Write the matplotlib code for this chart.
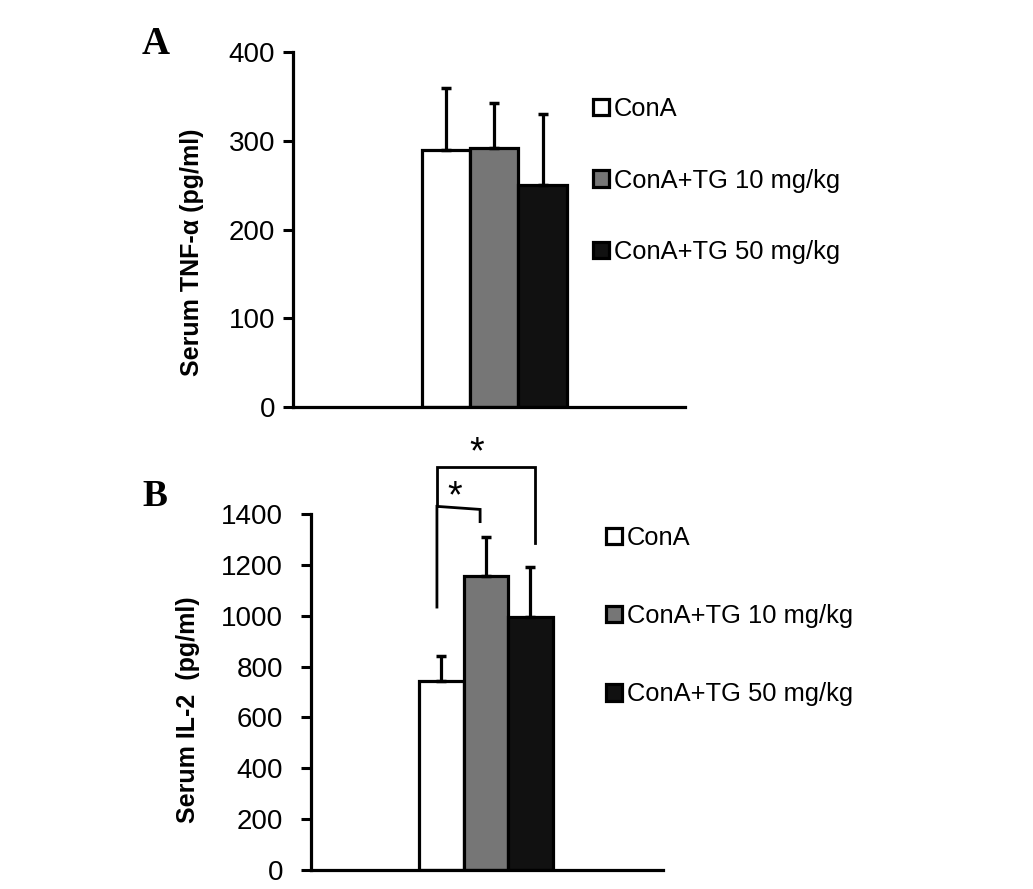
import matplotlib
matplotlib.use("Agg")
import matplotlib.pyplot as plt
import numpy as np

plt.rcParams['font.family'] = ['Liberation Sans', 'DejaVu Sans']

groups = ["ConA", "ConA+TG 10 mg/kg", "ConA+TG 50 mg/kg"]
colors = ["#ffffff", "#767676", "#111111"]

tnf_mean = [290, 292, 250]
tnf_err = [70, 50, 80]
tnf_ticks = [0, 100, 200, 300, 400]

il2_mean = [745, 1157, 993]
il2_err = [96, 153, 200]
il2_ticks = [0, 200, 400, 600, 800, 1000, 1200, 1400]

W, H = 1033, 889
fig = plt.figure(figsize=(W / 100, H / 100), dpi=100)


def px_axes(l, t, r, b):
    return fig.add_axes([l / W, 1 - b / H, (r - l) / W, (b - t) / H])


def style(ax, ticks, ylim, pad):
    ax.set_ylim(*ylim)
    ax.set_yticks(ticks)
    ax.set_xticks([])
    for s in ["top", "right"]:
        ax.spines[s].set_visible(False)
    for s in ["left", "bottom"]:
        ax.spines[s].set_linewidth(2.3)
    ax.tick_params(axis="y", length=7, width=2.2, labelsize=20, pad=pad, direction="out")


def draw(ax, means, errs):
    x = np.arange(len(means))
    bars = ax.bar(x, means, width=1.0, color=colors, edgecolor="black", linewidth=2.3,
                  zorder=2)
    ax.errorbar(x, means, yerr=[np.zeros(len(errs)), errs], fmt="none", ecolor="black",
                elinewidth=2.3, capsize=3.5, capthick=2.5, zorder=3)
    return bars


# Panel A
axA = px_axes(293, 52, 685, 407)
barsA = draw(axA, tnf_mean, tnf_err)
axA.set_xlim(-3.17, 4.95)
style(axA, tnf_ticks, (0, 400), 6)
axA.legend(barsA, groups, loc="upper left", bbox_to_anchor=(593 / W, 1 - 97 / H),
           bbox_transform=fig.transFigure, frameon=False, fontsize=18.4,
           handlelength=0.62, handleheight=0.62, handletextpad=0.2,
           labelspacing=1.86, borderpad=0, borderaxespad=0)
fig.text(192 / W, 1 - 252 / H, "Serum TNF-α (pg/ml)", rotation=90, ha="center", va="center",
         fontsize=18, fontweight="bold")
fig.text(156 / W, 1 - 44 / H, "A", ha="center", va="center", fontsize=28, fontweight="bold",
         family="Liberation Serif")

# Panel B
axB = px_axes(311, 514, 663, 870)
barsB = draw(axB, il2_mean, il2_err)
axB.set_xlim(-2.93, 4.98)
style(axB, il2_ticks, (0, 1400), 13)
axB.legend(barsB, groups, loc="upper left", bbox_to_anchor=(606 / W, 1 - 526 / H),
           bbox_transform=fig.transFigure, frameon=False, fontsize=18.4,
           handlelength=0.62, handleheight=0.62, handletextpad=0.2,
           labelspacing=2.12, borderpad=0, borderaxespad=0)
fig.text(188 / W, 1 - 710 / H, "Serum IL-2  (pg/ml)", rotation=90, ha="center", va="center",
         fontsize=18, fontweight="bold")
fig.text(155 / W, 1 - 497 / H, "B", ha="center", va="center", fontsize=27, fontweight="bold",
         family="Liberation Serif")

# significance brackets
axB.plot([-0.1, -0.1, 0.87, 0.87], [1034, 1430, 1418, 1370], color="black", lw=2.0,
         clip_on=False, solid_joinstyle="miter")
axB.plot([-0.1, -0.1, 2.1, 2.1], [1430, 1585, 1585, 1286], color="black", lw=2.0,
         clip_on=False, solid_joinstyle="miter")
axB.text(0.3, 1467, "*", ha="center", va="center", fontsize=27, clip_on=False)
axB.text(0.8, 1640, "*", ha="center", va="center", fontsize=27, clip_on=False)

fig.savefig("out.png", dpi=100, facecolor="white")
